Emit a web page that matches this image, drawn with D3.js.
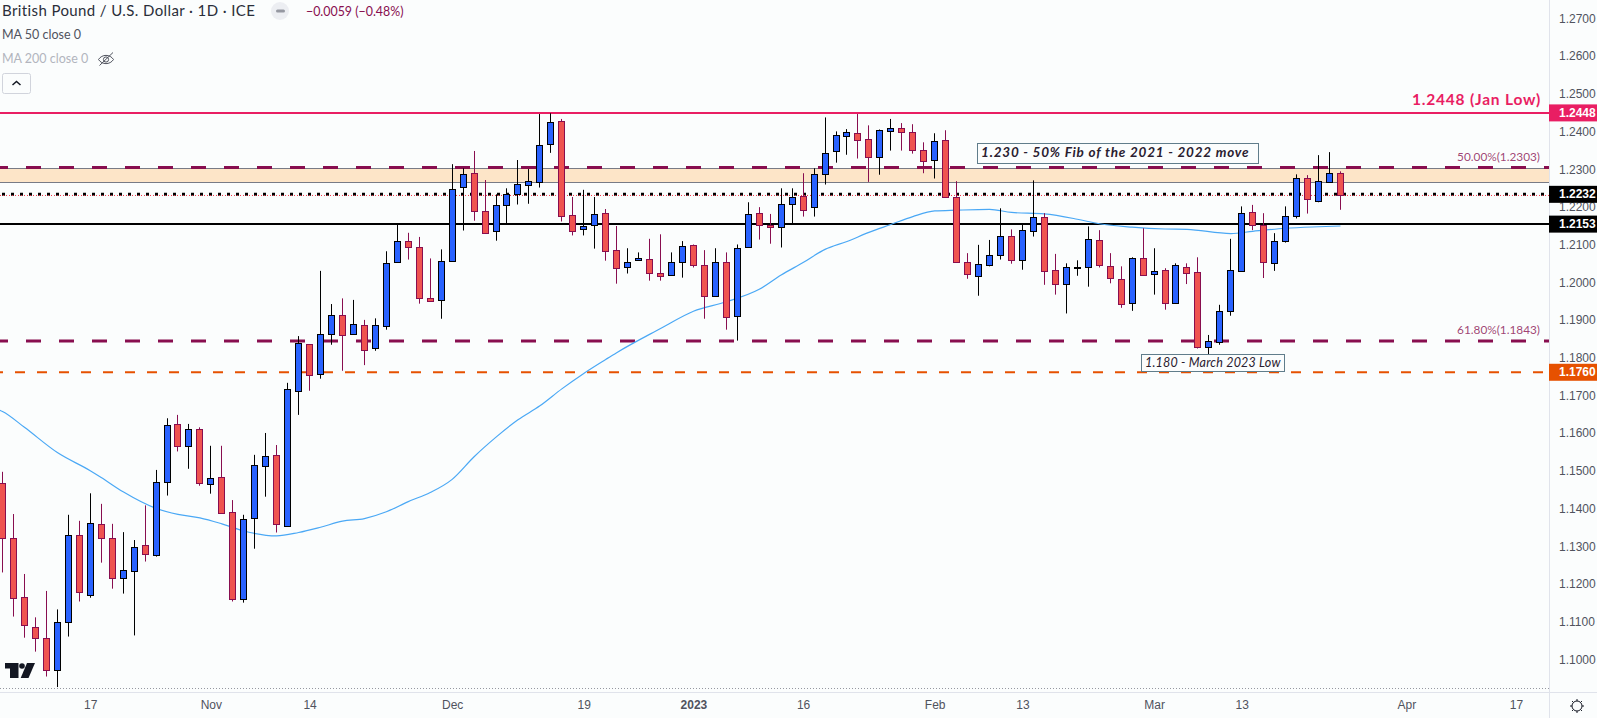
<!DOCTYPE html>
<html>
<head>
<meta charset="utf-8">
<script src="https://cdn.jsdelivr.net/npm/d3@7"></script>
<style>
  html, body { margin: 0; padding: 0; background: #fbfdfd; overflow: hidden; }
  svg { display: block; }
  text { font-family: "Lato", sans-serif; }
  .axis text { font-family: "Liberation Sans", sans-serif; font-size: 12px; fill: #50535e; }
  .axis path, .axis line { display: none; }
</style>
</head>
<body>
<svg id="canvas" width="1597" height="718"></svg>
<script>
"use strict"

// daily candles, Oct 5 2022 to Mar 24 2023, one row per ten sessions
const opens = [
  1.1466,1.1320,1.1163,1.1084,1.1054,1.0970,1.1097,1.1328,1.1168,1.1357,
  1.1320,1.1214,1.1232,1.1301,1.1275,1.1468,1.1622,1.1564,1.1609,1.1463,
  1.1481,1.1389,1.1158,1.1373,1.1511,1.1540,1.1351,1.1710,1.1834,1.1755,
  1.1861,1.1911,1.1861,1.1885,1.1824,1.1882,1.2052,1.2107,1.2091,1.1956,
  1.1951,1.2054,1.2251,1.2288,1.2187,1.2134,1.2203,1.2232,1.2256,1.2264,
  1.2365,1.2426,1.2176,1.2139,1.2150,1.2182,1.2083,1.2038,1.2057,1.2060,
  1.2023,1.2017,1.2052,1.2097,1.2044,1.1962,1.2052,1.1908,1.2091,1.2182,
  1.2150,1.2145,1.2206,1.2227,1.2198,1.2285,1.2346,1.2386,1.2394,1.2378,
  1.2330,1.2399,1.2407,1.2396,1.2349,1.2322,1.2375,1.2224,1.2052,1.2015,
  1.2044,1.2070,1.2121,1.2057,1.2134,1.2171,1.2030,1.1993,1.2036,1.2038,
  1.2110,1.2041,1.2007,1.1943,1.2062,1.2020,1.2030,1.1943,1.2038,1.2025,
  1.1825,1.1840,1.1922,1.2028,1.2184,1.2150,1.2049,1.2107,1.2174,1.2275,
  1.2214,1.2264,1.2288
]
const closes = [
  1.1320,1.1160,1.1089,1.1054,1.0970,1.1097,1.1328,1.1176,1.1359,1.1320,
  1.1214,1.1235,1.1296,1.1277,1.1468,1.1619,1.1564,1.1609,1.1466,1.1479,
  1.1386,1.1158,1.1370,1.1513,1.1537,1.1357,1.1715,1.1837,1.1752,1.1861,
  1.1911,1.1858,1.1887,1.1818,1.1885,1.2049,1.2107,1.2091,1.1956,1.1948,
  1.2054,1.2245,1.2285,1.2187,1.2129,1.2203,1.2231,1.2259,1.2266,1.2362,
  1.2423,1.2174,1.2134,1.2147,1.2179,1.2081,1.2036,1.2052,1.2062,1.2023,
  1.2015,1.2052,1.2094,1.2044,1.1962,1.2052,1.1906,1.2089,1.2179,1.2150,
  1.2145,1.2206,1.2224,1.2190,1.2285,1.2341,1.2388,1.2396,1.2375,1.2330,
  1.2402,1.2407,1.2396,1.2349,1.2320,1.2373,1.2224,1.2052,1.2020,1.2046,
  1.2070,1.2121,1.2057,1.2137,1.2171,1.2028,1.1993,1.2038,1.2038,1.2113,
  1.2044,1.2009,1.1940,1.2062,1.2017,1.2028,1.1943,1.2044,1.2023,1.1825,
  1.1842,1.1922,1.2031,1.2182,1.2150,1.2052,1.2107,1.2174,1.2275,1.2219,
  1.2267,1.2288,1.2229
]
const highs = [
  1.1496,1.1384,1.1225,1.1110,1.1180,1.1131,1.1382,1.1366,1.1439,1.1411,
  1.1358,1.1336,1.1315,1.1407,1.1501,1.1638,1.1647,1.1623,1.1614,1.1565,
  1.1565,1.1421,1.1382,1.1541,1.1599,1.1567,1.1732,1.1856,1.1834,1.2029,
  1.1941,1.1956,1.1952,1.1899,1.1903,1.2081,1.2153,1.2130,1.2119,1.2062,
  1.2086,1.2312,1.2301,1.2347,1.2270,1.2232,1.2248,1.2323,1.2299,1.2445,
  1.2447,1.2432,1.2225,1.2244,1.2225,1.2193,1.2148,1.2089,1.2078,1.2114,
  1.2126,1.2078,1.2108,1.2099,1.2084,1.2089,1.2078,1.2099,1.2211,1.2198,
  1.2180,1.2248,1.2248,1.2288,1.2301,1.2436,1.2399,1.2405,1.2445,1.2415,
  1.2404,1.2432,1.2421,1.2418,1.2370,1.2394,1.2402,1.2267,1.2076,1.2098,
  1.2111,1.2195,1.2139,1.2151,1.2269,1.2182,1.2074,1.2049,1.2057,1.2147,
  1.2137,1.2076,1.2041,1.2065,1.2142,1.2089,1.2036,1.2049,1.2049,1.2065,
  1.1859,1.1939,1.2114,1.2200,1.2204,1.2182,1.2129,1.2200,1.2285,1.2283,
  1.2336,1.2344,1.2293
]
const lows = [
  1.1229,1.1112,1.1056,1.1019,1.0953,1.0925,1.1059,1.1152,1.1162,1.1255,
  1.1186,1.1173,1.1062,1.1258,1.1271,1.1433,1.1550,1.1504,1.1459,1.1438,
  1.1386,1.1152,1.1149,1.1292,1.1430,1.1335,1.1351,1.1647,1.1711,1.1743,
  1.1833,1.1764,1.1861,1.1779,1.1817,1.1873,1.2052,1.2059,1.1942,1.1948,
  1.1902,1.2054,1.2136,1.2162,1.2129,1.2109,1.2153,1.2205,1.2207,1.2250,
  1.2342,1.2160,1.2123,1.2123,1.2088,1.2056,1.1995,1.2022,1.2057,1.2003,
  1.2003,1.2017,1.2011,1.2038,1.1902,1.1962,1.1873,1.1844,1.2091,1.2112,
  1.2101,1.2091,1.2153,1.2173,1.2173,1.2258,1.2316,1.2337,1.2327,1.2265,
  1.2284,1.2348,1.2348,1.2340,1.2288,1.2274,1.2224,1.2052,1.2008,1.1963,
  1.2041,1.2059,1.2048,1.2032,1.2120,1.1992,1.1966,1.1916,1.2016,1.1987,
  1.2038,1.1996,1.1931,1.1923,1.2017,1.1966,1.1926,1.1943,1.1994,1.1823,
  1.1805,1.1833,1.1910,1.2028,1.2137,1.2010,1.2029,1.2104,1.2168,1.2181,
  1.2211,1.2264,1.2191
]

// MA 50, read at every few sessions
const maIndex = [-1,0,2,5,8,9,11,14,16,18,20,22,25,27,29,31,33,35,37,39,41,43,45,47,49,51,53,55,56,60,63,66,69,71,73,75,77,79,81,83,85,87,90,92,95,98,100,103,106,108,112,114,117,120,122]
const maValues = [1.1667,1.1656,1.1614,1.1547,1.1499,1.1481,1.1443,1.1399,1.1383,1.1374,1.1358,1.1339,1.1326,1.1335,1.1349,1.1365,1.1372,1.1390,1.1417,1.1441,1.1476,1.1536,1.1588,1.1634,1.1671,1.1716,1.1757,1.1794,1.1812,1.1876,1.1922,1.1947,1.1980,1.2018,1.2051,1.2086,1.2107,1.2131,1.2152,1.2173,1.2188,1.2190,1.2192,1.2184,1.2180,1.2166,1.2154,1.2145,1.2140,1.2139,1.2128,1.2134,1.2142,1.2146,1.2148]

const priceTicks = [1.27,1.26,1.25,1.24,1.23,1.22,1.21,1.20,1.19,1.18,1.17,1.16,1.15,1.14,1.13,1.12,1.11,1.10]
const timeTickIndex = [8,19,28,41,53,63,73,85,93,105,113,128,138]
const timeTickLabels = ["17","Nov","14","Dec","19","2023","16","Feb","13","Mar","13","Apr","17"]

const janLow = 1.2448
const fib50 = 1.2303
const fib618 = 1.1843
const zoneTop = 1.2300
const zoneBottom = 1.2264
const dotted = 1.2232
const lastClose = 1.2229
const support = 1.2153
const marchLine = 1.1760

const paneRight = 1549
const paneBottom = 692
const width = 1597
const height = 718

const x = d3.scaleLinear().domain([0, 122]).range([2.5, 1340.5])
const y = d3.scaleLinear().domain([1.10, 1.27]).range([658.8, 17.9])
const crisp = v => Math.floor(v) + 0.5

const svg = d3.select("#canvas")

svg.append("rect").attr("width", width).attr("height", height).attr("fill", "#fbfdfd")

svg.append("defs").append("clipPath").attr("id", "pane")
  .append("rect").attr("width", paneRight).attr("height", paneBottom)

const pane = svg.append("g").attr("clip-path", "url(#pane)")

// zone between the two grey edges
pane.append("rect")
  .attr("x", -1).attr("width", paneRight + 2)
  .attr("y", crisp(y(zoneTop))).attr("height", crisp(y(zoneBottom)) - crisp(y(zoneTop)))
  .attr("fill", "#fde5c8").attr("stroke", "#787b86").attr("stroke-width", 1)

function hline(value, color, strokeWidth, dash, offset) {
  pane.append("line")
    .attr("x1", 0).attr("x2", paneRight)
    .attr("y1", y(value)).attr("y2", y(value))
    .attr("stroke", color).attr("stroke-width", strokeWidth)
    .attr("stroke-dasharray", dash || null)
    .attr("stroke-dashoffset", offset || 0)
}

hline(janLow, "#e91e63", 2)
hline(fib50, "#880e4f", 3, "15 18", 7)
hline(fib618, "#880e4f", 3, "15 18", 7)
hline(marchLine, "#e65100", 2, "10 12", 7)
hline(support, "#000000", 2)
hline(dotted, "#000000", 3, "3 6", 7)
hline(lastClose, "#f23645", 1, "1 2")

// bottom dotted edge
pane.append("line")
  .attr("x1", 0).attr("x2", paneRight).attr("y1", 688.5).attr("y2", 688.5)
  .attr("stroke", "#9598a1").attr("stroke-width", 1).attr("stroke-dasharray", "1 2")

// moving average
const maLine = d3.line()
  .x(i => x(maIndex[i]))
  .y(i => y(maValues[i]))
  .curve(d3.curveMonotoneX)

pane.append("path")
  .attr("d", maLine(d3.range(maIndex.length)))
  .attr("fill", "none").attr("stroke", "#4aa8f5").attr("stroke-width", 1.2)

// candles
const candles = pane.append("g").selectAll("g")
  .data(d3.range(opens.length))
  .join("g")

const isUp = i => closes[i] >= opens[i]
const edgeColor = i => isUp(i) ? "#000000" : "#880e4f"

candles.append("line")
  .attr("x1", i => crisp(x(i))).attr("x2", i => crisp(x(i)))
  .attr("y1", i => y(highs[i])).attr("y2", i => y(lows[i]))
  .attr("stroke", edgeColor).attr("stroke-width", 1)

candles.append("rect")
  .attr("x", i => crisp(x(i)) - 3)
  .attr("width", 6)
  .attr("y", i => crisp(y(Math.max(opens[i], closes[i]))))
  .attr("height", i => Math.max(1, crisp(y(Math.min(opens[i], closes[i]))) - crisp(y(Math.max(opens[i], closes[i])))))
  .attr("fill", i => isUp(i) ? "#2962ff" : "#ef5350")
  .attr("stroke", edgeColor).attr("stroke-width", 1)

// text drawings on the chart
pane.append("text")
  .attr("x", 1541).attr("y", y(janLow) - 11.5).attr("dominant-baseline", "middle")
  .attr("text-anchor", "end")
  .attr("font-size", 15.5).attr("font-weight", 700).attr("letter-spacing", 0.8)
  .attr("fill", "#e91e63")
  .text("1.2448 (Jan Low)")

const fibLabels = [[fib50, "50.00%(1.2303)"], [fib618, "61.80%(1.1843)"]]
fibLabels.forEach(d => {
  pane.append("text")
    .attr("x", 1540).attr("y", y(d[0]) - 10).attr("dominant-baseline", "middle")
    .attr("text-anchor", "end").attr("font-size", 11.8)
    .attr("fill", "#880e4f").attr("fill-opacity", 0.8)
    .text(d[1])
})

function noteBox(x0, x1, y0, y1, label, weight, textX, size, spacing) {
  pane.append("rect")
    .attr("x", x0).attr("y", y0).attr("width", x1 - x0).attr("height", y1 - y0)
    .attr("fill", "#fbfdfd").attr("stroke", "#607d8b").attr("stroke-width", 1)
  pane.append("text")
    .attr("x", textX).attr("y", (y0 + y1) / 2 + 0.5).attr("dominant-baseline", "middle")
    .attr("font-size", size).attr("font-style", "italic").attr("font-weight", weight)
    .attr("letter-spacing", spacing)
    .attr("fill", "#2a2030")
    .text(label)
}
noteBox(977.5, 1258.5, 143.5, 163.5, "1.230 - 50% Fib of the 2021 - 2022 move", 700, 981, 13.5, 0.8)
noteBox(1141.5, 1284.5, 354.5, 371.5, "1.180 - March 2023 Low", 400, 1145, 12.5, 0.2)

// logo
const logo = pane.append("g").attr("fill", "#131722")
logo.append("path").attr("d", "M5 663H18.5V678H10V668.5H5Z")
logo.append("circle").attr("cx", 22).attr("cy", 666).attr("r", 2.8)
logo.append("path").attr("d", "M35 663H27L20.7 678H28.5Z")

// pane edges
svg.append("line").attr("x1", 0).attr("x2", width).attr("y1", paneBottom + 0.5).attr("y2", paneBottom + 0.5).attr("stroke", "#e0e3eb")
svg.append("line").attr("x1", paneRight + 0.5).attr("x2", paneRight + 0.5).attr("y1", 0).attr("y2", height).attr("stroke", "#e0e3eb")

// axes
svg.append("g").attr("class", "axis")
  .attr("transform", `translate(${paneRight},0.5)`)
  .call(d3.axisRight(y).tickValues(priceTicks).tickSize(0).tickPadding(10).tickFormat(d3.format(".4f")))

const xAxis = svg.append("g").attr("class", "axis")
  .attr("transform", `translate(0,${paneBottom})`)
  .call(d3.axisBottom(x).tickValues(timeTickIndex).tickSize(0).tickPadding(8)
    .tickFormat((d, i) => timeTickLabels[i]))
xAxis.selectAll("text").attr("font-weight", (d, i) => timeTickLabels[i] === "2023" ? 700 : null)

// price tags
const priceTags = [[janLow, "#e91e63"], [dotted, "#000000"], [support, "#000000"], [marchLine, "#e65100"]]
const tags = svg.append("g").selectAll("g").data(priceTags).join("g")
tags.append("rect")
  .attr("x", paneRight).attr("width", width - paneRight)
  .attr("y", d => y(d[0]) - 8.5).attr("height", 17)
  .attr("fill", d => d[1])
tags.append("text")
  .attr("x", 1559).attr("y", d => y(d[0]) + 0.5).attr("dominant-baseline", "middle")
  .style("font-family", '"Liberation Sans", sans-serif')
  .attr("font-size", 12).attr("font-weight", 700).attr("fill", "#ffffff")
  .text(d => d3.format(".4f")(d[0]))

// legend
svg.append("text").attr("x", 2).attr("y", 12).attr("dominant-baseline", "middle")
  .attr("font-size", 15).attr("letter-spacing", 0.39).attr("fill", "#2a2e39")
  .text("British Pound / U.S. Dollar · 1D · ICE")
svg.append("circle").attr("cx", 280).attr("cy", 11).attr("r", 9).attr("fill", "#eceef2")
svg.append("rect").attr("x", 276).attr("y", 9.5).attr("width", 9).attr("height", 3).attr("rx", 1.5).attr("fill", "#9598a1")
svg.append("text").attr("x", 306).attr("y", 12.5).attr("dominant-baseline", "middle")
  .attr("font-size", 12.4).attr("fill", "#880e4f")
  .text("−0.0059 (−0.48%)")
svg.append("text").attr("x", 2).attr("y", 35.5).attr("dominant-baseline", "middle")
  .attr("font-size", 12.5).attr("fill", "#50535e").text("MA 50 close 0")
svg.append("text").attr("x", 2).attr("y", 59.5).attr("dominant-baseline", "middle")
  .attr("font-size", 12.5).attr("fill", "#b2b5be").text("MA 200 close 0")

// crossed eye
const eye = svg.append("g").attr("fill", "none").attr("stroke", "#50535e").attr("stroke-width", 1)
eye.append("path").attr("d", "M98.5 59.5C102 54 110 54 113.5 59.5C110 65 102 65 98.5 59.5Z")
eye.append("circle").attr("cx", 106).attr("cy", 59.5).attr("r", 2.6)
eye.append("line").attr("x1", 99.5).attr("y1", 65.5).attr("x2", 113).attr("y2", 52.5)

// collapse button
svg.append("rect").attr("x", 2.5).attr("y", 73.5).attr("width", 28).attr("height", 20).attr("rx", 2)
  .attr("fill", "#fbfdfd").attr("stroke", "#d1d4dc")
svg.append("path").attr("d", "M12.5 85L16.5 81.5L20.5 85").attr("fill", "none").attr("stroke", "#131722").attr("stroke-width", 1.5)

// settings icon
const gear = svg.append("g").attr("transform", "translate(1577,706)").attr("stroke", "#131722").attr("fill", "none")
gear.append("circle").attr("r", 5)
d3.range(8).forEach(k => {
  const a = k * Math.PI / 4
  gear.append("line")
    .attr("x1", 5 * Math.cos(a)).attr("y1", 5 * Math.sin(a))
    .attr("x2", 7 * Math.cos(a)).attr("y2", 7 * Math.sin(a))
})
</script>
</body>
</html>
